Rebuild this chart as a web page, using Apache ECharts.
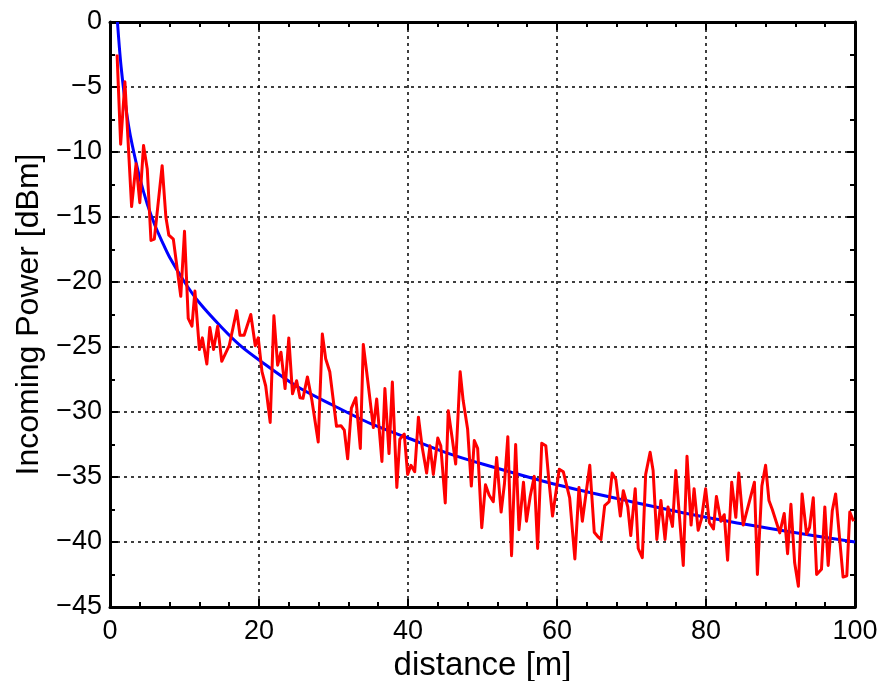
<!DOCTYPE html>
<html>
<head>
<meta charset="utf-8">
<script src="https://cdn.jsdelivr.net/npm/echarts@6/dist/echarts.min.js"></script>
<style>html,body{margin:0;padding:0;background:#fff;}#chart{width:880px;height:681px;}</style>
</head>
<body>
<div id="chart"></div>
<script>
// Measured (noisy) incoming power, red
const measDistance = [0.95,1.43,2.0,2.9,3.5,4.0,4.5,5.0,5.5,5.95,7.0,7.5,7.9,8.5,9.5,10.0,10.5,11.0,11.4,12.0,12.4,13.0,13.4,13.9,14.45,15.0,16.0,17.0,17.45,18.0,18.9,19.5,19.9,20.4,20.9,21.5,22.0,22.5,22.95,23.5,24.0,24.5,25.05,25.5,25.9,26.5,27.1,27.95,28.5,28.95,29.5,30.4,31.0,31.45,31.9,32.4,33.0,33.6,34.0,34.45,35.35,35.8,36.5,36.9,37.45,37.9,38.5,38.9,39.5,39.95,40.4,40.9,41.4,41.9,42.5,42.95,43.4,44.0,44.4,45.0,45.4,45.95,46.4,47.0,47.4,48.0,48.5,48.9,49.35,49.9,50.4,50.9,51.45,51.9,52.5,52.95,53.4,53.9,54.45,54.9,55.5,55.9,56.4,56.95,57.4,57.95,58.5,58.9,59.4,60.3,60.85,61.7,62.4,62.95,63.4,64.4,65.0,65.5,65.9,66.4,67.0,67.4,67.9,68.5,68.9,69.5,69.9,70.5,70.9,71.45,71.9,72.5,72.9,73.4,73.95,74.5,74.9,75.5,75.95,76.5,76.95,77.45,78.0,78.4,78.95,79.4,79.95,80.45,81.0,81.4,82.0,82.45,82.9,83.45,84.0,84.4,85.0,86.5,86.9,87.5,88.0,88.45,88.9,89.9,90.5,90.95,91.4,91.9,92.4,92.9,93.5,93.9,94.4,94.85,95.5,95.95,96.4,96.95,97.4,98.4,98.9,99.3,99.8];
const measPower = [-2.5,-9.4,-4.6,-14.2,-10.9,-13.9,-9.5,-11.3,-16.8,-16.7,-11.05,-15.0,-16.4,-16.7,-21.1,-16.1,-22.8,-23.4,-20.7,-25.2,-24.3,-26.3,-23.5,-25.2,-23.4,-26.1,-24.9,-22.2,-24.1,-24.1,-22.5,-24.9,-24.3,-26.9,-28.0,-30.8,-22.6,-26.4,-25.4,-28.2,-24.3,-28.6,-27.6,-28.9,-28.95,-27.3,-29.1,-32.3,-24.0,-25.9,-26.9,-31.1,-31.05,-31.4,-33.6,-29.7,-28.9,-32.8,-24.8,-26.9,-31.2,-29.0,-33.8,-28.2,-33.2,-27.7,-35.8,-32.1,-31.7,-34.8,-34.1,-34.6,-30.4,-32.7,-34.7,-32.6,-34.8,-32.0,-32.6,-37.0,-29.9,-32.1,-34.0,-26.9,-29.1,-31.3,-35.7,-32.2,-32.8,-38.9,-35.6,-36.4,-36.9,-33.5,-37.7,-35.5,-31.9,-41.05,-32.5,-39.05,-35.4,-38.4,-36.5,-34.95,-40.5,-32.4,-32.6,-35.2,-38.0,-34.4,-34.6,-36.6,-41.3,-35.8,-38.4,-34.1,-39.25,-39.6,-39.8,-37.2,-36.9,-34.7,-35.2,-38.0,-36.05,-37.3,-39.5,-35.9,-40.5,-41.2,-34.8,-33.1,-34.5,-39.8,-36.8,-39.8,-37.3,-38.8,-34.5,-38.5,-41.8,-33.4,-38.7,-35.9,-39.1,-38.2,-35.9,-38.5,-39.0,-36.5,-38.4,-37.9,-41.4,-35.4,-38.1,-34.7,-38.7,-35.4,-42.5,-35.7,-34.1,-36.8,-37.5,-39.3,-37.8,-40.9,-37.1,-41.6,-43.4,-36.3,-39.4,-38.9,-36.6,-42.5,-42.1,-37.3,-41.8,-37.6,-36.3,-42.7,-42.6,-37.7,-38.4];

// Path-loss model curve, blue
const modelDistance = [1,1.25,1.5,2,2.5,3,4,5,6,7,8,10,12,15,17.5,20,25,30,35,40,45,50,60,70,80,90,100];
const modelPower = [0,-1.9,-3.5,-6,-8,-9.5,-12,-14,-15.6,-16.9,-18.1,-20,-21.6,-23.5,-24.9,-26,-28,-29.5,-30.9,-32,-33.1,-34,-35.6,-36.9,-38.1,-39.1,-40];

// Axis ticks
const xTicks = {min: 0, max: 100, interval: 20};
const yTicks = {min: -45, max: 0, interval: 5};

const zip = (a, b) => a.map((v, i) => [v, b[i]]);
const FONT = "'Liberation Sans', Arial, Helvetica, sans-serif";
const fmtNum = v => (v < 0 ? '\u2212' + Math.abs(v) : String(v));

const chart = echarts.init(document.getElementById('chart'), null, {renderer: 'canvas'});

const axisLine = {show: true, onZero: false, lineStyle: {color: '#000', width: 3}};
const tick = {show: true, inside: true, length: 8, lineStyle: {color: '#000', width: 2}};
const minor = n => ({show: true, splitNumber: n, length: 5, lineStyle: {color: '#000', width: 2}});
const grid = {show: true, lineStyle: {color: '#000', width: 1.5, type: [3, 4]}};

chart.setOption({
  animation: false,
  backgroundColor: '#fff',
  grid: {left: 110, right: 25, top: 22, bottom: 74, containLabel: false, outerBoundsMode: 'none'},
  xAxis: [
    {
      type: 'value', position: 'bottom', min: xTicks.min, max: xTicks.max, interval: xTicks.interval,
      name: 'distance [m]', nameLocation: 'middle', nameGap: 31,
      nameTextStyle: {fontFamily: FONT, fontSize: 33, color: '#000'},
      axisLine, axisTick: tick, minorTick: minor(5), splitLine: grid,
      axisLabel: {fontFamily: FONT, fontSize: 27, color: '#000', margin: 11, formatter: fmtNum}
    },
    {
      type: 'value', position: 'top', min: xTicks.min, max: xTicks.max, interval: xTicks.interval,
      axisLine, axisTick: tick, minorTick: minor(5), splitLine: {show: false}, axisLabel: {show: false}
    }
  ],
  yAxis: [
    {
      type: 'value', position: 'left', min: yTicks.min, max: yTicks.max, interval: yTicks.interval,
      name: 'Incoming Power [dBm]', nameLocation: 'middle', nameGap: 65,
      nameTextStyle: {fontFamily: FONT, fontSize: 32, color: '#000'},
      axisLine, axisTick: tick, minorTick: minor(2), splitLine: grid,
      axisLabel: {fontFamily: FONT, fontSize: 27, color: '#000', margin: 8, formatter: fmtNum}
    },
    {
      type: 'value', position: 'right', min: yTicks.min, max: yTicks.max, interval: yTicks.interval,
      axisLine, axisTick: tick, minorTick: minor(2), splitLine: {show: false}, axisLabel: {show: false}
    }
  ],
  series: [
    {
      type: 'line', name: 'model', data: zip(modelDistance, modelPower), smooth: 0.3,
      showSymbol: false, symbol: 'none', clip: true,
      lineStyle: {color: '#0000ff', width: 3}, z: 2
    },
    {
      type: 'line', name: 'measured', data: zip(measDistance, measPower), smooth: false,
      showSymbol: false, symbol: 'none', clip: true,
      lineStyle: {color: '#ff0000', width: 3, join: 'round'}, z: 3
    }
  ]
});
</script>
</body>
</html>
